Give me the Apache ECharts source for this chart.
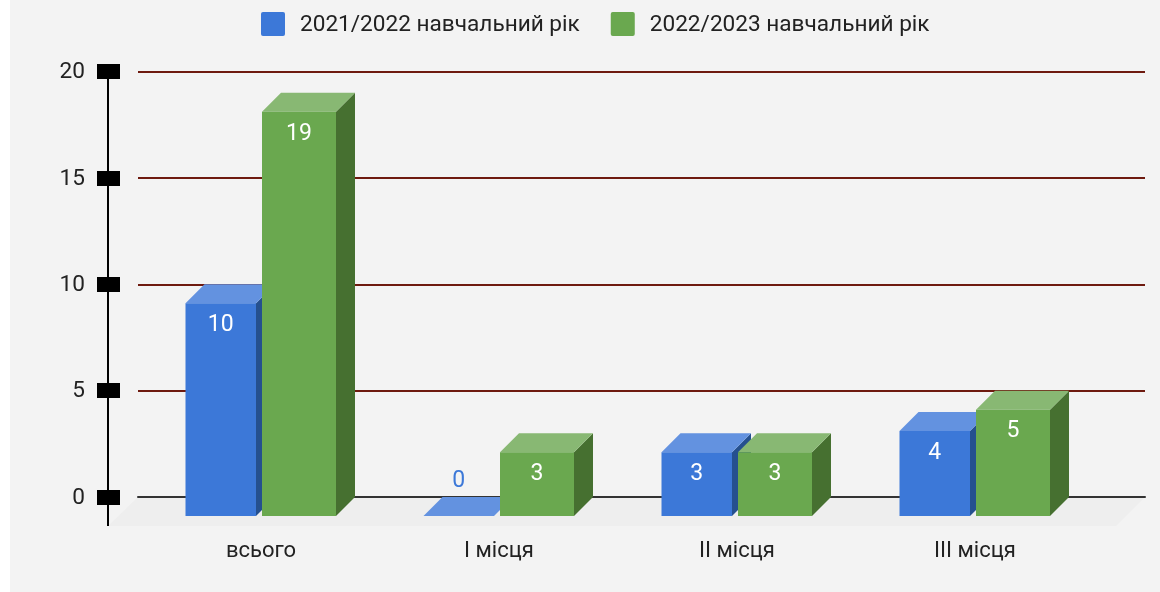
<!DOCTYPE html>
<html>
<head>
<meta charset="utf-8">
<style>
html,body{margin:0;padding:0;background:#f3f3f3;width:1160px;height:592px;overflow:hidden}
#strip{position:absolute;left:0;top:0;width:10px;height:592px;background:#fff}
#chart{position:absolute;left:0;top:0;width:1160px;height:592px}
</style>
<script src="https://cdn.jsdelivr.net/npm/echarts@6/dist/echarts.min.js"></script>
</head>
<body>
<div id="strip"></div>
<div id="chart"></div>
<script>
const categories = ['всього', 'I місця', 'II місця', 'III місця'];
const seriesNames = ['2021/2022 навчальний рік', '2022/2023 навчальний рік'];
const values2021 = [10, 0, 3, 4];
const values2022 = [19, 3, 3, 5];
const yTicks = { min: 0, max: 20, interval: 5 };

const FONT = 'Roboto, sans-serif';
const DEPTH = 19, FLOOR = 29, AXIS_GAP = 30;
const LEGEND_ICON = 'path://M2 0H22A2 2 0 0 1 24 2V22A2 2 0 0 1 22 24H2A2 2 0 0 1 0 22V2A2 2 0 0 1 2 0Z';
const palette = [
  { front: '#3c78d8', top: '#6392e0', side: '#25508f' },
  { front: '#6aa84f', top: '#88b873', side: '#467030' }
];
const geometry = [{ start: -75.5, width: 70.5 }, { start: 1, width: 74 }];

function barRenderer(idx) {
  const g = geometry[idx], c = palette[idx];
  return function (params, api) {
    const v = api.value(1);
    const p = api.coord([api.value(0), v]);
    const base = api.coord([api.value(0), 0]);
    const x = p[0] + g.start, w = g.width;
    const yTop = p[1] + DEPTH, yBase = base[1] + DEPTH;
    const children = [];
    if (v > 0) {
      children.push({ type: 'polygon', shape: { points: [[x + w, yTop], [x + w + DEPTH, yTop - DEPTH], [x + w + DEPTH, yBase - DEPTH], [x + w, yBase]] }, style: { fill: c.side } });
    }
    children.push({ type: 'polygon', shape: { points: [[x, yTop], [x + DEPTH, yTop - DEPTH], [x + w + DEPTH, yTop - DEPTH], [x + w, yTop]] }, style: { fill: c.top } });
    if (v > 0) {
      children.push({ type: 'rect', shape: { x: x, y: yTop, width: w, height: yBase - yTop }, style: { fill: c.front } });
    }
    children.push({
      type: 'text',
      x: x + w / 2,
      y: v > 0 ? yTop + 22 : yTop - 35,
      style: { text: String(v), fill: v > 0 ? '#ffffff' : c.front, font: '400 23px ' + FONT, align: 'center', verticalAlign: 'middle' }
    });
    return { type: 'group', children: children };
  };
}

function frameRenderer(params) {
  const cs = params.coordSys;
  const bottom = cs.y + cs.height;
  const ax = cs.x - AXIS_GAP;
  return {
    type: 'group',
    children: [
      { type: 'polygon', shape: { points: [[cs.x, bottom], [cs.x + cs.width, bottom], [cs.x + cs.width - FLOOR, bottom + FLOOR], [ax, bottom + FLOOR]] }, style: { fill: '#eeeeee' } },
      { type: 'line', shape: { x1: ax, y1: cs.y, x2: ax, y2: bottom + FLOOR }, style: { stroke: '#000', lineWidth: 2 } }
    ]
  };
}

const chart = echarts.init(document.getElementById('chart'), null, { renderer: 'canvas' });
chart.setOption({
  animation: false,
  backgroundColor: 'transparent',
  textStyle: { fontFamily: FONT },
  legend: {
    left: 261, top: 12, padding: 0, itemWidth: 24, itemHeight: 24, itemGap: 31, icon: LEGEND_ICON,
    data: seriesNames,
    selectedMode: false,
    formatter: '{a|{name}}',
    textStyle: {
      fontFamily: FONT, fontSize: 22.6, color: '#222222', padding: [0, 0, 0, 10],
      rich: { a: { fontFamily: FONT, fontSize: 22.6, color: '#222222', padding: [3, 0, 0, 0] } }
    }
  },
  grid: [
    { left: 138, width: 1007, top: 71.5, height: 425.5 },
    { left: 142, width: 952, top: 71.5, height: 425.5 }
  ],
  xAxis: [
    { gridIndex: 0, type: 'category', data: categories, z: 1.5, axisLine: { show: true, lineStyle: { color: '#333333', width: 2 } }, axisTick: { show: false }, axisLabel: { show: false }, splitLine: { show: false } },
    { gridIndex: 1, type: 'category', data: categories, axisLine: { show: false }, axisTick: { show: false }, axisLabel: { margin: 43, fontFamily: FONT, fontSize: 22, color: '#222222' } }
  ],
  yAxis: [
    {
      gridIndex: 0, type: 'value', min: yTicks.min, max: yTicks.max, interval: yTicks.interval, offset: 18,
      axisLine: { show: false },
      axisTick: { show: true, length: 23, lineStyle: { color: '#000', width: 15 } },
      axisLabel: { margin: 35, fontFamily: FONT, fontSize: 22.6, color: '#222222', verticalAlign: 'top', lineHeight: 2 },
      splitLine: { show: true, lineStyle: { color: '#6e1a0f', width: 2 } }
    },
    { gridIndex: 1, type: 'value', min: yTicks.min, max: yTicks.max, interval: yTicks.interval, show: false, splitLine: { show: false } }
  ],
  series: [
    { type: 'custom', name: 'frame', xAxisIndex: 0, yAxisIndex: 0, coordinateSystem: 'cartesian2d', clip: false, z: 1, silent: true, data: [[0, 0]], renderItem: frameRenderer },
    { type: 'custom', name: seriesNames[0], xAxisIndex: 1, yAxisIndex: 1, coordinateSystem: 'cartesian2d', clip: false, z: 2, itemStyle: { color: palette[0].front }, encode: { x: 0, y: 1 }, data: values2021.map((v, i) => [i, v]), renderItem: barRenderer(0) },
    { type: 'custom', name: seriesNames[1], xAxisIndex: 1, yAxisIndex: 1, coordinateSystem: 'cartesian2d', clip: false, z: 3, itemStyle: { color: palette[1].front }, encode: { x: 0, y: 1 }, data: values2022.map((v, i) => [i, v]), renderItem: barRenderer(1) }
  ]
});
</script>
</body>
</html>
